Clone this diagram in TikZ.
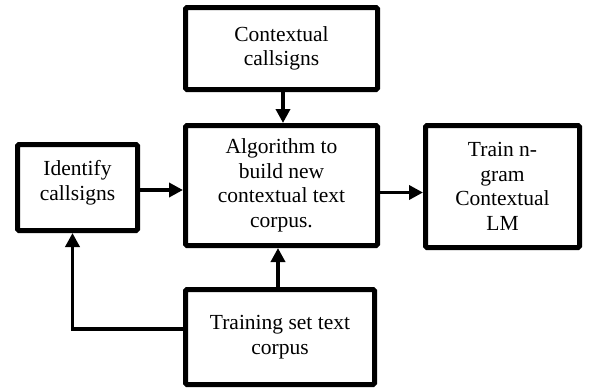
\documentclass[tikz,border=0pt]{standalone}
\usepackage{fontspec}
\setmainfont{Liberation Serif}
\usetikzlibrary{arrows.meta}
\begin{document}
\begin{tikzpicture}[x=1pt,y=1pt,
  txt/.style={align=center, inner sep=0pt, font=\fontsize{21.5}{24.5}\selectfont},
  box/.style={txt, draw=black, line width=5pt, rounded corners=1.5pt, fill=white},
  flow/.style={line width=3.5pt, -{Triangle[length=14pt,width=14pt]}},
  link/.style={line width=3.5pt}]
\useasboundingbox (0,0) rectangle (590,-391);

\node[box, minimum width=192pt, minimum height=82pt] (ctx) at (281.5,-48.5)
  {Contextual\\callsigns};
\node[box, minimum width=192pt, minimum height=120pt] (alg) at (281.5,-185.5)
  {Algorithm to\\build new\\contextual text\\corpus.};
\node[box, minimum width=120pt, minimum height=86pt] (idf) at (77.5,-187.5) {};
\node[txt] (idft) at ([yshift=5pt]idf.center) {Identify\\callsigns};
\node[box, minimum width=154pt, minimum height=122pt] (lm) at (502.5,-186.5)
  {Train n-\\gram\\Contextual\\LM};
\node[box, minimum width=189pt, minimum height=95pt] (trn) at (280,-337)
  {Training set text\\corpus};

% arrows into and out of the corpus-building step
\draw[flow] ([xshift=1.5pt]ctx.south) -- ([xshift=1.5pt]ctx.south |- alg.north);
\draw[flow] ([yshift=-2.5pt]idf.east) -- ([yshift=-2.5pt]idf.east -| alg.west);
\draw[flow] ([yshift=-7pt]alg.east) -- ([yshift=-7pt]alg.east -| lm.west);
\draw[flow] ([xshift=-2pt]trn.north) -- ([xshift=-2pt]trn.north |- alg.south);

% training corpus also feeds the callsign identification
\coordinate (fb) at ([xshift=-5pt]idf.south);
\draw[link] ([yshift=8pt]trn.west) -| ([yshift=-16pt]fb);
\draw[flow] ([yshift=-16pt]fb) -- (fb);
\end{tikzpicture}
\end{document}
